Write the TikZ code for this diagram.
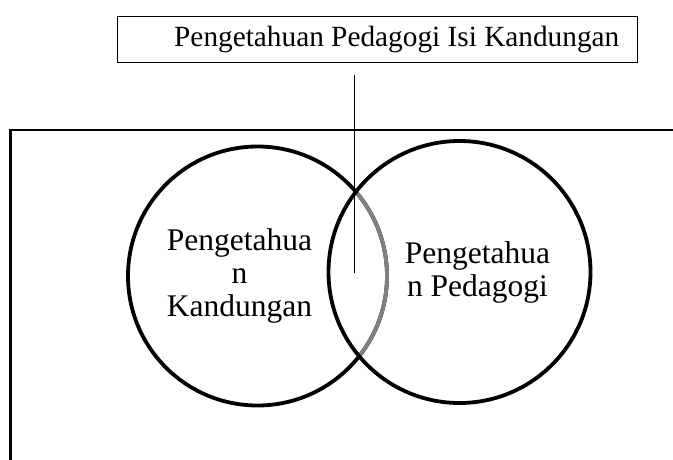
\documentclass[tikz,border=0pt]{standalone}
\usepackage{fontspec}
\setmainfont{Liberation Serif}
\begin{document}
\begin{tikzpicture}[x=1pt,y=1pt,
  thinbox/.style={draw, line width=0.9pt, inner sep=0pt},
  vennline/.style={line width=3.8pt},
  frameline/.style={line width=2.6pt},
  lbl/.style={font=\fontsize{31.5}{33}\selectfont, align=center, inner sep=0pt},
  titlelbl/.style={font=\fontsize{29.3}{33}\selectfont, inner sep=0pt}]
\useasboundingbox (0,0) rectangle (673,-459);
% title box
\node[thinbox, minimum width=519.3pt, minimum height=46pt] (box) at (377.35,-39.7) {};
\node[titlelbl, anchor=base west] (title) at (174,-46.7) {Pengetahuan Pedagogi Isi Kandungan};
% frame
\coordinate (fbl) at (10.7,-462);
\coordinate (ftl) at (10.7,-130);
\coordinate (ftr) at (676,-130);
\draw[frameline] (fbl) -- (ftl) -- (ftr);
% circles
\coordinate (cl) at (257.5,-276);
\coordinate (cr) at (459.5,-272);
\draw[vennline] (cl) circle[radius=129.5];
\begin{scope}
  \clip (cr) circle[radius=131];
  \draw[vennline, color=gray] (cl) circle[radius=129.5];
\end{scope}
\draw[vennline] (cr) circle[radius=131];
% connector
\coordinate (ltop) at (354.3,-75);
\coordinate (lbot) at (354.3,-273);
\draw[line width=0.9pt] (ltop) -- (lbot);
% labels
\node[lbl] (kand) at (239.5,-276.4) {Pengetahua\\n\\Kandungan};
\node[lbl] (peda) at (477.5,-272.2) {Pengetahua\\n Pedagogi};
\end{tikzpicture}
\end{document}
